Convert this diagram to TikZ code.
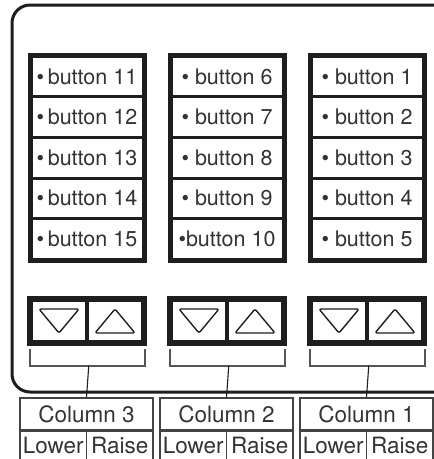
\documentclass[tikz,border=0pt]{standalone}
\usepackage{fontspec}
\setmainfont{TeX Gyre Heros}
\usetikzlibrary{calc}
\definecolor{ink}{HTML}{1E1E1E}
\definecolor{txt}{HTML}{333333}
\definecolor{brkc}{HTML}{555555}
\definecolor{lblc}{HTML}{444444}
\tikzset{
  cell/.style={draw=ink, line width=3pt, minimum width=112pt, minimum height=40.6pt,
    inner sep=0pt, font=\fontsize{21.5}{21.5}\selectfont, text=txt},
  arrbox/.style={draw=ink, line width=3.5pt, minimum width=56pt, minimum height=42pt, inner sep=0pt},
  colbox/.style={draw=lblc, line width=1.1pt, minimum width=133pt, minimum height=32pt,
    inner sep=0pt, font=\fontsize{22.5}{22.5}\selectfont, text=txt},
  halfbox/.style={draw=lblc, line width=1.1pt, minimum width=66.5pt, minimum height=28.5pt,
    inner sep=0pt, font=\fontsize{22.5}{22.5}\selectfont, text=txt},
  tri/.style={draw=ink, line width=1.4pt, rounded corners=2pt, line join=round},
  brk/.style={draw=brkc, line width=1.8pt},
  stem/.style={draw=ink, line width=1.1pt},
  frame/.style={draw=ink, line width=3pt, rounded corners=18pt},
  outline/.style={draw=ink, line width=4pt}
}
\begin{document}
\begin{tikzpicture}[x=1pt,y=-1pt]
\useasboundingbox (0,0) rectangle (434,459);
\clip (0,0) rectangle (434,459);
\fill[white] (0,0) rectangle (434,459);
% outer frame
\draw[frame] (12,5) rectangle (460,392);
% button columns
\node[cell] (b11) at (87,76.5) {\textbullet\,button 11};
\node[cell] (b12) at (87,117.1) {\textbullet\,button 12};
\node[cell] (b13) at (87,157.7) {\textbullet\,button 13};
\node[cell] (b14) at (87,198.3) {\textbullet\,button 14};
\node[cell] (b15) at (87,238.9) {\textbullet\,button 15};
\node[cell] (b6) at (227,76.5) {\textbullet\ button 6};
\node[cell] (b7) at (227,117.1) {\textbullet\ button 7};
\node[cell] (b8) at (227,157.7) {\textbullet\ button 8};
\node[cell] (b9) at (227,198.3) {\textbullet\ button 9};
\node[cell] (b10) at (227,238.9) {\textbullet button 10};
\node[cell] (b1) at (367,76.5) {\textbullet\ button 1};
\node[cell] (b2) at (367,117.1) {\textbullet\ button 2};
\node[cell] (b3) at (367,157.7) {\textbullet\ button 3};
\node[cell] (b4) at (367,198.3) {\textbullet\ button 4};
\node[cell] (b5) at (367,238.9) {\textbullet\ button 5};
\draw[outline] (b11.north west) rectangle (b15.south east);
\draw[outline] (b6.north west) rectangle (b10.south east);
\draw[outline] (b1.north west) rectangle (b5.south east);
% arrow buttons
\foreach \c/\x in {3/87,2/227,1/367}{
  \node[arrbox] (dn\c) at (\x-28,321) {};
  \node[arrbox] (up\c) at (\x+28,321) {};
  \draw[tri] (dn\c.center) ++(-20,-12) -- ++(40,0) -- ++(-20,24) -- cycle;
  \draw[tri] (up\c.center) ++(0,-12) -- ++(20,24) -- ++(-40,0) -- cycle;
  \draw[outline] (dn\c.north west) rectangle (up\c.south east);
  % bracket
  \coordinate (bk\c) at ($(dn\c.south east)+(0,22)$);
  \draw[brk] ($(dn\c.south west)+(1,5)$) -- ($(dn\c.south west)+(1,22)$)
     -- ($(up\c.south east)+(0,22)$) -- ($(up\c.south east)+(0,5)$);
  % labels
  \node[colbox] (col\c) at (\x-0.5,414) {Column \c};
  \node[halfbox, anchor=north west] (low\c) at (col\c.south west) {Lower};
  \node[halfbox, anchor=north east] (rai\c) at (col\c.south east) {Raise};
  \draw[stem] (bk\c) -- (col\c.north);
}
\end{tikzpicture}
\end{document}
